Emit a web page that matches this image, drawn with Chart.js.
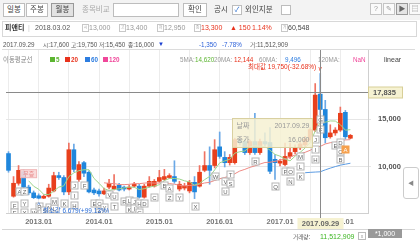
<!DOCTYPE html>
<html>
<head>
<meta charset="utf-8">
<script src="https://cdn.jsdelivr.net/npm/chart.js@4.4.1/dist/chart.umd.min.js"></script>
<style>
body { margin: 0; width: 420px; height: 243px; overflow: hidden; position: relative; background: #fff;
  font-family: "Liberation Sans", "Noto Sans CJK KR", sans-serif; font-size: 7px; color: #555; }
.a { position: absolute; white-space: nowrap; line-height: 9px; z-index: 3; }
.s { font-size: 6.3px; }
.k { font-size: 5.6px; }
#bar1 { position: absolute; left: 0; top: 0; width: 420px; height: 20px; background: #f3f3f3; }
.btn { position: absolute; top: 3px; height: 12px; line-height: 12px; border: 1px solid #bdbdbd; background: #fff;
  text-align: center; font-size: 7.5px; color: #444; z-index: 3; }
.ic { position: absolute; top: 3px; width: 10px; height: 10px; border: 1px solid #c4c4c4; background: #fafafa;
  font-size: 7px; line-height: 10px; text-align: center; color: #999; z-index: 3; }
#row2 { position: absolute; left: 2px; top: 21px; width: 413px; height: 14px; border: 1px solid #d8d8d8; background: #fff; }
.tag { position: absolute; top: 24px; width: 5px; height: 6px; border: 1px solid #c8c8c8; font-size: 4px; line-height: 6px;
  text-align: center; color: #aaa; z-index: 3; }
#row3 { position: absolute; left: 2px; top: 37px; width: 413px; height: 12px; border-bottom: 1px solid #dcdcdc; background: #fff; }
.sq { position: absolute; top: 57px; width: 5px; height: 5px; z-index: 3; }
#vol { position: absolute; left: 2px; top: 229px; width: 413px; height: 14px; border-top: 1px solid #d6d6d6; background: #fff; }
#chart { position: absolute; left: 0; top: 0; z-index: 2; }
</style>
</head>
<body>
<div id="bar1"></div>
<div class="btn" style="left:3px;width:20px">일봉</div>
<div class="btn" style="left:26px;width:20px">주봉</div>
<div class="btn" style="left:51px;width:21px;background:#e2e2e2;border-color:#999">월봉</div>
<div class="a" style="left:82px;top:5px;font-size:7.5px;color:#aaa">종목비교</div>
<div class="btn" style="left:113px;width:64px"></div>
<div class="btn" style="left:183px;width:22px">확인</div>
<div class="a" style="left:214px;top:5px;font-size:7.5px;color:#444">공시</div>
<div class="btn" style="left:232px;top:5px;width:8px;height:8px;line-height:8px;color:#2a6fd0;font-size:7px">✓</div>
<div class="a" style="left:245px;top:5px;font-size:7.5px;color:#444">외인지분</div>
<div class="btn" style="left:281px;top:5px;width:8px;height:8px"></div>
<div class="ic" style="left:370px">?</div>
<div class="ic" style="left:383px">✎</div>
<div class="ic" style="left:396px;background:#e4e4e4;border-color:#999;color:#666">▶</div>
<div class="ic" style="left:409px">▤</div>

<div id="row2"></div>
<div class="a" style="left:5px;top:23px;font-weight:bold;color:#333">피앤티</div>
<div class="a" style="left:28px;top:23px;color:#ccc">|</div>
<div class="a" style="left:35px;top:23px;color:#555">2018.03.02</div>
<div class="tag" style="left:82px">시</div>
<div class="a" style="left:89px;top:23px;color:#999">13,000</div>
<div class="tag" style="left:119px">고</div>
<div class="a" style="left:126px;top:23px;color:#999">13,400</div>
<div class="tag" style="left:157px">저</div>
<div class="a" style="left:164px;top:23px;color:#999">12,950</div>
<div class="tag" style="left:194px">종</div>
<div class="a" style="left:201px;top:23px;color:#e8321c">13,300</div>
<div class="a" style="left:230px;top:23px;color:#e8321c">▲ 150</div>
<div class="a" style="left:252px;top:23px;color:#e8321c">1.14%</div>
<div class="tag" style="left:281px">거</div>
<div class="a" style="left:288px;top:23px;color:#444">60,548</div>

<div id="row3"></div>
<div class="a s" style="left:3px;top:40px">2017.09.29</div>
<div class="a s" style="left:43px;top:40px"><span class="k">시</span>:17,600</div>
<div class="a s" style="left:71px;top:40px"><span class="k">고</span>:19,750</div>
<div class="a s" style="left:99px;top:40px"><span class="k">저</span>:15,450</div>
<div class="a s" style="left:128px;top:40px"><span class="k">종</span>:16,000</div>
<div class="a" style="left:158px;top:40px;color:#1a3fd0;font-size:6px">▼</div>
<div class="a s" style="left:199px;top:40px;color:#2a5fd8">-1,350</div>
<div class="a s" style="left:222px;top:40px;color:#2a5fd8">-7.78%</div>
<div class="a s" style="left:250px;top:40px"><span class="k">거</span>:11,512,909</div>

<div class="a" style="left:3px;top:55px;color:#888;font-size:6.4px">이동평균선</div>
<div class="sq" style="left:50px;background:#5cb531"></div>
<div class="a s" style="left:56px;top:55px;color:#5cb531;font-weight:bold">5</div>
<div class="sq" style="left:65px;background:#e8321c"></div>
<div class="a s" style="left:71px;top:55px;color:#e8321c;font-weight:bold">20</div>
<div class="sq" style="left:85px;background:#2d7de0"></div>
<div class="a s" style="left:91px;top:55px;color:#2d7de0;font-weight:bold">60</div>
<div class="sq" style="left:103px;background:#f0479a"></div>
<div class="a s" style="left:109px;top:55px;color:#f0479a;font-weight:bold">120</div>
<div class="a s" style="left:180px;top:55px;color:#999">5MA:</div>
<div class="a s" style="left:195px;top:55px;color:#5cb531">14,620</div>
<div class="a s" style="left:214px;top:55px;color:#999">20MA:</div>
<div class="a s" style="left:234px;top:55px;color:#e8321c">12,144</div>
<div class="a s" style="left:259px;top:55px;color:#999">60MA:</div>
<div class="a s" style="left:285px;top:55px;color:#2d7de0">9,496</div>
<div class="a s" style="left:318px;top:55px;color:#999">120MA:</div>
<div class="a s" style="left:353px;top:55px;color:#f0479a">NaN</div>
<div class="a" style="left:384px;top:55px;color:#444">linear</div>

<div id="vol"></div>
<div class="a s" style="left:293px;top:232px"><span class="k">거래량</span>:</div>
<div class="a" style="left:320px;top:232px;color:#3cb521">11,512,909</div>
<div class="a" style="left:358px;top:232px;width:6px;height:6px;border:1px solid #bbb;line-height:6px;text-align:center;font-size:5px;color:#999">x</div>
<div class="a" style="left:368px;top:229px;width:34px;height:9px;background:#999;color:#fff;text-align:center">*1,000</div>
<div class="a" style="left:403px;top:167px;width:14px;height:30px;border:1px solid #ccc;border-radius:3px;background:#fff;line-height:30px;text-align:center;color:#888;font-size:6px">◀</div>

<canvas id="chart" width="420" height="243"></canvas>

<script>
// monthly candles 2012.07 ~ 2018.03 (axis runs to 2018.06)
const months = [
  '2012.07', '2012.08', '2012.09', '2012.10', '2012.11', '2012.12',
  '2013.01', '2013.02', '2013.03', '2013.04', '2013.05', '2013.06', '2013.07', '2013.08', '2013.09', '2013.10', '2013.11', '2013.12',
  '2014.01', '2014.02', '2014.03', '2014.04', '2014.05', '2014.06', '2014.07', '2014.08', '2014.09', '2014.10', '2014.11', '2014.12',
  '2015.01', '2015.02', '2015.03', '2015.04', '2015.05', '2015.06', '2015.07', '2015.08', '2015.09', '2015.10', '2015.11', '2015.12',
  '2016.01', '2016.02', '2016.03', '2016.04', '2016.05', '2016.06', '2016.07', '2016.08', '2016.09', '2016.10', '2016.11', '2016.12',
  '2017.01', '2017.02', '2017.03', '2017.04', '2017.05', '2017.06', '2017.07', '2017.08', '2017.09', '2017.10', '2017.11', '2017.12',
  '2018.01', '2018.02', '2018.03', '2018.04', '2018.05', '2018.06'
]

const opens = [11400, 6950, 8300, 9500, 7900, 7300, 7000, 6750, 6950, 7500, 9100, 8900, 7400, 11800, 8700, 10450, 9450, 7600,
  7500, 7200, 7900, 7700, 8100, 7900, 7700, 8000, 8000, 6850, 8000, 8000, 8500, 8700, 8900, 9000, 7700, 7800, 7500, 8400,
  8000, 9650, 10150, 10150, 12100, 11000, 10450, 10450, 12750, 12650, 11500, 12650, 11500, 12650, 12550, 10800, 10400, 10250,
  11100, 11600, 12000, 12300, 12850, 13850, 17600, 16000, 13150, 13550, 13850, 15700, 13000]
const highs = [11600, 9000, 10150, 9700, 8100, 7500, 7200, 7100, 8200, 9450, 9450, 9100, 12500, 12400, 10550, 10600, 9600, 7800,
  7700, 7800, 8700, 9200, 8300, 8000, 8100, 8400, 8200, 8200, 9000, 8700, 9650, 9750, 9300, 10650, 8500, 8300, 8600, 9000,
  10150, 11600, 12100, 12850, 13650, 11600, 11300, 13000, 13000, 12900, 12800, 15600, 12900, 13550, 14100, 11300, 10800, 12500,
  12500, 12300, 12600, 13200, 14100, 18700, 19750, 16950, 14400, 14100, 16250, 15900, 13400]
const lows = [9450, 6850, 8100, 7800, 7100, 6700, 6679, 6700, 6850, 7400, 8700, 7100, 7100, 9500, 8500, 9000, 7300, 7100,
  6950, 7100, 7700, 7600, 7500, 7500, 7600, 7900, 6750, 6750, 7900, 7900, 8400, 8600, 8800, 8300, 7500, 7600, 7300, 6700,
  7900, 9500, 8200, 9900, 10900, 10000, 10200, 10300, 12300, 11300, 11300, 11300, 11300, 12200, 9300, 8700, 10100, 10100,
  10900, 11400, 11800, 12100, 12700, 13700, 15450, 12500, 13000, 13300, 13700, 12900, 12950]
const closes = [9650, 8300, 9650, 7900, 7300, 6800, 6750, 6950, 7800, 9100, 8900, 7400, 11800, 9750, 10250, 9350, 7400, 7300,
  7200, 7500, 8300, 8000, 7600, 7700, 7900, 8200, 6850, 8000, 8500, 8500, 8900, 9000, 9100, 8500, 8200, 8000, 8400, 7400,
  9450, 10150, 9650, 11800, 11100, 10450, 11000, 12850, 12550, 11500, 12650, 11500, 12650, 12400, 9550, 10450, 10600, 11100,
  11500, 12000, 12400, 12900, 13900, 17500, 16000, 13050, 13550, 13850, 15600, 13150, 13300]

// moving average lines
const ma5 = [null, null, null, null, 8560, 7990, 7680, 7140, 7120, 7480, 7900, 8030, 9000, 9390, 9620, 9710, 9710, 8810,
  8300, 7750, 7540, 7660, 7720, 7820, 7900, 7880, 7650, 7730, 7890, 8010, 8150, 8580, 8800, 8800, 8740, 8560, 8440, 8100,
  8290, 8680, 9010, 9690, 10430, 10630, 10800, 11440, 11590, 11670, 12110, 12210, 12170, 12140, 11750, 11310, 11130, 10820,
  10640, 11130, 11520, 11980, 12540, 13740, 14620, 14670, 14800, 14790, 14410, 13840, 13890]
const ma20 = [null, null, null, null, null, null, null, null, null, null, null, null, null, null, null, null, null, null, null,
  8350, 8290, 8270, 8170, 8160, 8190, 8260, 8260, 8320, 8350, 8320, 8320, 8400, 8270, 8200, 8100, 8030, 8080, 8090, 8200,
  8330, 8400, 8590, 8770, 8900, 9060, 9290, 9580, 9750, 9960, 10110, 10300, 10470, 10490, 10590, 10710, 10860, 11020, 11250,
  11390, 11530, 11740, 12030, 12144, 12400, 12530, 12580, 12730, 12820, 12850]
const ma60 = Array(59).fill(null).concat([9400, 9440, 9470, 9496, 9700, 9880, 10040, 10190, 10290, 10390])

const priceTicks = [10000, 15000]

// letter markers under the candles (month index, letter, price level)
const markIdx = [1, 1, 2, 3, 3, 3, 5, 6, 7, 8, 9, 9, 11, 13, 13, 13, 15, 17, 18, 19, 18, 20, 21, 21, 23, 24, 25, 24, 25,
  26, 27, 26, 29, 31, 32, 32, 34, 37, 41, 43, 44, 44, 43, 49, 53, 55, 56, 56, 58, 58, 58, 61, 61, 61, 62, 62, 65, 66, 66, 66, 67]
const markText = ['F', 'E', 'A', 'Z', 'Y', 'X', 'W', 'R', 'S', 'N', 'L', 'M', 'K', 'J', 'I', 'H', 'F', 'E', 'C', 'Y', 'B', 'V',
  'U', 'T', 'R', 'L', 'J', 'K', 'I', 'H', 'D', 'G', 'C', 'B', 'A', 'Z', 'Y', 'X', 'W', 'V', 'T', 'S', 'U', 'R', 'Q', 'P', 'O',
  'N', 'M', 'L', 'K', 'J', 'I', 'H', 'G', 'F', 'E', 'D', 'C', 'B', 'A']
const markPrice = [6000, 5300, 7500, 7500, 6250, 5300, 5300, 5900, 5500, 5800, 5700, 6450, 6250, 8100, 7100, 6050, 8100, 6250,
  6250, 5800, 5300, 7200, 7000, 5950, 6450, 6550, 6500, 5600, 5700, 6250, 6250, 5300, 6870, 8100, 7800, 6870, 6870, 5930,
  9060, 8540, 9270, 8330, 7500, 10620, 8020, 9580, 9580, 8540, 11150, 10100, 9060, 12920, 11880, 10830, 15000, 13960, 12290,
  12600, 11670, 10830, 11880]

const eventIdx = [4]
const eventText = ['무증']
const eventPrice = [9300]

const crossIdx = 62
const crossPrice = 17835
const maxIdx = 62
const minIdx = 6

const FONT = '"Liberation Sans", "Noto Sans CJK KR", sans-serif'
const UP = '#e8401c', DOWN = '#1f86dc', UP_WICK = '#ef7262', DOWN_WICK = '#6aa8e6'
const isUp = opens.map((o, i) => closes[i] >= o)

const overlay = {
  id: 'overlay',
  afterDatasetsDraw(chart) {
    const { ctx, chartArea: a, scales: { x, y } } = chart
    ctx.save()
    ctx.beginPath()
    ctx.rect(a.left, a.top, a.right - a.left, a.bottom - a.top)
    ctx.clip()
    ctx.font = '6px ' + FONT
    ctx.textAlign = 'center'
    ctx.textBaseline = 'middle'
    markIdx.forEach((m, k) => {
      const px = Math.round(x.getPixelForValue(m)) + 0.5
      const py = Math.round(y.getPixelForValue(markPrice[k])) + 0.5
      const hot = k === markIdx.length - 1
      ctx.fillStyle = hot ? '#f6a04c' : '#fff'
      ctx.strokeStyle = hot ? '#f6a04c' : '#b5b5b5'
      ctx.fillRect(px - 3.5, py - 3.5, 7, 7)
      ctx.strokeRect(px - 3.5, py - 3.5, 7, 7)
      ctx.fillStyle = hot ? '#fff' : '#666'
      ctx.fillText(markText[k], px, py + 0.5)
    })
    eventIdx.forEach((m, k) => {
      const px = x.getPixelForValue(m), py = y.getPixelForValue(eventPrice[k])
      ctx.fillStyle = 'rgba(248,215,215,0.9)'
      ctx.strokeStyle = '#f0b5b5'
      ctx.fillRect(px - 8, py - 4, 16, 8)
      ctx.strokeRect(px - 8, py - 4, 16, 8)
      ctx.fillStyle = '#e88a8a'
      ctx.font = '6px ' + FONT
      ctx.fillText(eventText[k], px, py + 0.5)
    })
    // min / max notes
    ctx.font = '6.5px ' + FONT
    const hx = x.getPixelForValue(maxIdx), hy = y.getPixelForValue(highs[maxIdx])
    ctx.fillStyle = '#e8321c'
    ctx.textAlign = 'right'
    ctx.fillText('최대값 19,750(-32.68%)', hx - 4, hy - 6)
    ctx.textAlign = 'center'
    ctx.fillText('v', hx, hy - 4)
    const lx = x.getPixelForValue(minIdx), ly = y.getPixelForValue(lows[minIdx])
    ctx.fillStyle = '#2d6fd8'
    ctx.fillText('^', lx, ly + 6)
    ctx.textAlign = 'left'
    ctx.fillText('최소값 6,679(+99.13%)', lx + 4, ly + 12)
    ctx.restore()
  },
  afterDraw(chart) {
    const { ctx, chartArea: a, scales: { x, y } } = chart
    const cx = Math.round(x.getPixelForValue(crossIdx)) + 0.5
    const cy = Math.round(y.getPixelForValue(crossPrice)) + 0.5
    ctx.save()
    ctx.strokeStyle = '#8a8a8a'
    ctx.lineWidth = 1
    ctx.beginPath()
    ctx.moveTo(cx, a.top)
    ctx.lineTo(cx, a.bottom + 5)
    ctx.moveTo(a.left, cy)
    ctx.lineTo(a.right, cy)
    ctx.stroke()
    // tooltip
    ctx.fillStyle = 'rgba(246,241,210,0.85)'
    ctx.strokeStyle = '#d9d0a0'
    ctx.fillRect(cx - 88, 118.5, 80, 29)
    ctx.strokeRect(cx - 88, 118.5, 80, 29)
    ctx.font = '7px ' + FONT
    ctx.fillStyle = '#999'
    ctx.textBaseline = 'middle'
    ctx.textAlign = 'left'
    ctx.fillText('날짜', cx - 84, 126)
    ctx.fillText('종가', cx - 84, 140)
    ctx.textAlign = 'right'
    ctx.fillText(months[crossIdx] + '.29', cx - 11, 126)
    ctx.fillText(closes[crossIdx].toLocaleString('en-US'), cx - 11, 140)
    // price box
    ctx.fillStyle = '#f6f2d2'
    ctx.strokeStyle = '#d8cf98'
    ctx.fillRect(a.right + 0.5, cy - 5.5, 34, 11)
    ctx.strokeRect(a.right + 0.5, cy - 5.5, 34, 11)
    ctx.font = 'bold 7.5px ' + FONT
    ctx.fillStyle = '#555'
    ctx.textAlign = 'left'
    ctx.fillText(crossPrice.toLocaleString('en-US'), a.right + 5, cy + 0.5)
    // date box
    ctx.fillStyle = '#f6f2d2'
    ctx.fillRect(cx - 23, a.bottom + 5, 46, 11)
    ctx.fillStyle = '#666'
    ctx.textAlign = 'center'
    ctx.fillText(months[crossIdx] + '.29', cx, a.bottom + 11)
    ctx.restore()
  }
}

const ctx = document.getElementById('chart').getContext('2d')
new Chart(ctx, {
  type: 'bar',
  data: {
    labels: months,
    datasets: [
      { type: 'line', data: ma5, borderColor: '#9dd48c', borderWidth: 1, pointRadius: 0, order: 0 },
      { type: 'line', data: ma20, borderColor: '#ef8a84', borderWidth: 1, pointRadius: 0, order: 0 },
      { type: 'line', data: ma60, borderColor: '#5b9be2', borderWidth: 1, pointRadius: 0, order: 0 },
      {
        data: opens.map((o, i) => [o, closes[i]]),
        backgroundColor: isUp.map(u => u ? UP : DOWN),
        barThickness: 4, minBarLength: 1, grouped: false, order: 1
      },
      {
        data: lows.map((l, i) => [l, highs[i]]),
        backgroundColor: isUp.map(u => u ? UP_WICK : DOWN_WICK),
        barThickness: 1, grouped: false, order: 2
      }
    ]
  },
  options: {
    responsive: false,
    animation: false,
    devicePixelRatio: 1,
    layout: { padding: { left: 6, right: 10, top: 50, bottom: 14 } },
    plugins: { legend: { display: false }, tooltip: { enabled: false } },
    scales: {
      x: {
        offset: true,
        grid: { offset: false, drawTicks: false, color: c => (c.index % 6 === 0 ? '#ececec' : 'rgba(0,0,0,0)') },
        border: { display: true, color: '#d0d0d0' },
        ticks: {
          autoSkip: false, maxRotation: 0, padding: 4, color: '#777',
          font: { size: 7.5, weight: 'bold', family: FONT },
          callback: (v, i) => (months[i].endsWith('.01') ? months[i] : '')
        },
        afterFit: s => { s.height = 16 }
      },
      y: {
        position: 'right', min: 5200, max: 22200,
        afterBuildTicks: s => { s.ticks = priceTicks.map(v => ({ value: v })) },
        grid: { color: '#e6e6e6', tickLength: 3 },
        border: { display: true, color: '#cfcfcf' },
        ticks: {
          padding: 7, color: '#555', font: { size: 7.5, weight: 'bold', family: FONT },
          callback: v => v.toLocaleString('en-US')
        },
        afterFit: s => { s.width = 42 }
      }
    }
  },
  plugins: [overlay]
})
</script>
</body>
</html>
